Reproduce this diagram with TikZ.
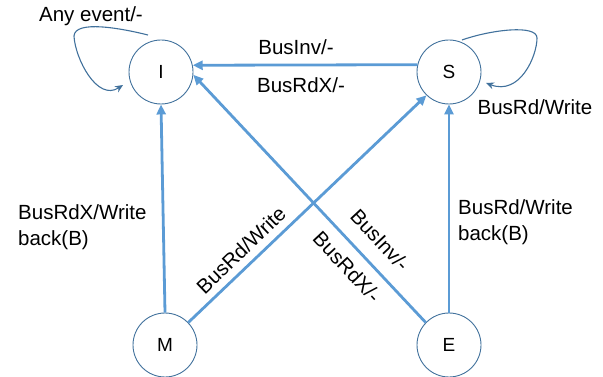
\documentclass[tikz,border=0pt]{standalone}
\usepackage{fontspec}
\setmainfont{Liberation Sans}
\usetikzlibrary{arrows.meta}
\definecolor{edgeblue}{HTML}{5B9BD5}
\definecolor{ringblue}{HTML}{41719C}
\begin{document}
\begin{tikzpicture}[x=1pt,y=-1pt,
  state/.style={circle,draw=ringblue,line width=0.9pt,minimum size=64pt,inner sep=0pt,font=\fontsize{19}{22}\selectfont},
  trans/.style={draw=edgeblue,line width=2.8pt,-{Triangle[length=10pt,width=9pt]}},
  loopy/.style={draw=ringblue,line width=1.1pt,-{Stealth[length=8pt,width=7pt]}},
  lbl/.style={font=\fontsize{20.5}{26.5}\selectfont,inner sep=0pt}]
\useasboundingbox (0,0) rectangle (603,377);
\node[state] (I) at (161,72) {I};
\node[state] (S) at (449,72) {S};
\node[state] (M) at (165,345) {M};
\node[state] (E) at (449,345) {E};
% transitions
\draw[trans] (S.167.4) -- (I.12.6);
\draw[trans] (E.136) -- (I.-5);
\draw[trans] (M.north) -- (I.south);
\draw[trans] (M.44) -- (S.226);
\draw[trans] (E.north) -- (S.south);
% self loops
\coordinate (ia) at (148,35);
\coordinate (ib) at (123,85);
\draw[loopy] (ia) .. controls (120,28) and (75,20) .. (74,36) .. controls (75,58) and (97,102) .. (ib);
\coordinate (sa) at (462,40);
\coordinate (sb) at (486,83);
\draw[loopy] (sa) .. controls (490,30) and (537,24) .. (537,38) .. controls (537,56) and (520,96) .. (sb);
% labels
\node[lbl] (l1) at (91,16) {Any event/-};
\node[lbl] (l2) at (296,47) {BusInv/-};
\node[lbl] (l3) at (301,85) {BusRdX/-};
\node[lbl] (l4) at (535,107) {BusRd/Write};
\node[lbl,anchor=west,align=left] (l5) at (18,227) {BusRdX/Write\\back(B)};
\node[lbl,anchor=west,align=left] (l6) at (458,222) {BusRd/Write\\back(B)};
\node[lbl,rotate=44] (l7) at (241,250) {BusRd/Write};
\node[lbl,rotate=-47] (l8) at (380,240) {BusInv/-};
\node[lbl,rotate=-47] (l9) at (347,267) {BusRdX/-};
\end{tikzpicture}
\end{document}
